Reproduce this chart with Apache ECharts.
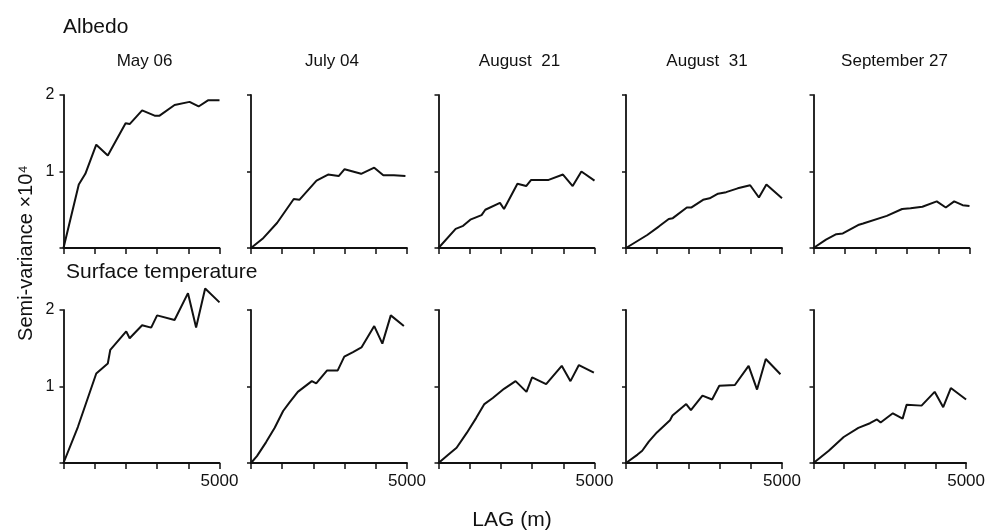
<!DOCTYPE html>
<html>
<head>
<meta charset="utf-8">
<script src="https://cdn.jsdelivr.net/npm/echarts@6/dist/echarts.min.js"></script>
<style>
html,body{margin:0;padding:0;background:#fff;}
#c{width:988px;height:532px;}
</style>
</head>
<body>
<div id="c"></div>
<script>
// ---- Data (lag in m, semi-variance x10^4) ----
const panelTitles = ['May 06', 'July 04', 'August  21', 'August  31', 'September 27'];
const rowTitles = ['Albedo', 'Surface temperature'];
const xTicks = [0, 1000, 2000, 3000, 4000, 5000];
const yTicks = [0, 1, 2];

// Albedo
const albMay06Lag = [0, 490, 700, 1050, 1420, 1990, 2120, 2520, 2920, 3080, 3560, 4040, 4330, 4630, 5000];
const albMay06Val = [0, 0.83, 0.97, 1.35, 1.21, 1.63, 1.62, 1.80, 1.73, 1.73, 1.87, 1.91, 1.85, 1.93, 1.93];
const albJul04Lag = [0, 370, 840, 1370, 1550, 2100, 2470, 2810, 3000, 3530, 3950, 4240, 4580, 4950];
const albJul04Val = [0, 0.12, 0.33, 0.64, 0.63, 0.88, 0.96, 0.94, 1.03, 0.97, 1.05, 0.95, 0.95, 0.94];
const albAug21Lag = [0, 550, 790, 1020, 1380, 1500, 1970, 2100, 2530, 2810, 2970, 3530, 3990, 4300, 4580, 5000];
const albAug21Val = [0, 0.25, 0.29, 0.37, 0.43, 0.50, 0.59, 0.51, 0.84, 0.81, 0.89, 0.89, 0.96, 0.81, 1.00, 0.88];
const albAug31Lag = [0, 680, 1050, 1370, 1500, 1950, 2100, 2470, 2680, 2950, 3210, 3580, 3980, 4260, 4500, 5000];
const albAug31Val = [0, 0.17, 0.28, 0.38, 0.39, 0.53, 0.53, 0.63, 0.65, 0.71, 0.73, 0.78, 0.82, 0.66, 0.83, 0.65];
const albSep27Lag = [0, 400, 730, 940, 1430, 1590, 2350, 2840, 3110, 3490, 3950, 4240, 4510, 4780, 5000];
const albSep27Val = [0, 0.11, 0.18, 0.19, 0.30, 0.32, 0.42, 0.51, 0.52, 0.54, 0.61, 0.53, 0.61, 0.56, 0.55];

// Surface temperature
const tmpMay06Lag = [0, 460, 1050, 1420, 1500, 2010, 2120, 2520, 2810, 3000, 3560, 3990, 4250, 4540, 5000];
const tmpMay06Val = [0, 0.47, 1.17, 1.30, 1.48, 1.72, 1.63, 1.80, 1.77, 1.93, 1.87, 2.22, 1.77, 2.28, 2.10];
const tmpJul04Lag = [0, 190, 480, 760, 1030, 1230, 1500, 1950, 2090, 2440, 2780, 2990, 3270, 3540, 3950, 4210, 4480, 4900];
const tmpJul04Val = [0, 0.09, 0.27, 0.46, 0.68, 0.79, 0.93, 1.07, 1.04, 1.21, 1.21, 1.39, 1.45, 1.51, 1.79, 1.56, 1.93, 1.79];
const tmpAug21Lag = [0, 320, 580, 900, 1210, 1470, 1740, 2100, 2470, 2820, 3000, 3450, 3950, 4230, 4500, 4980];
const tmpAug21Val = [0, 0.11, 0.20, 0.39, 0.59, 0.77, 0.85, 0.97, 1.07, 0.93, 1.12, 1.03, 1.27, 1.07, 1.28, 1.18];
const tmpAug31Lag = [0, 370, 520, 730, 990, 1410, 1490, 1930, 2080, 2450, 2760, 2990, 3490, 3930, 4200, 4480, 4950];
const tmpAug31Val = [0, 0.11, 0.16, 0.28, 0.40, 0.56, 0.62, 0.77, 0.69, 0.88, 0.83, 1.01, 1.02, 1.27, 0.96, 1.36, 1.16];
const tmpSep27Lag = [0, 500, 990, 1470, 1850, 2080, 2200, 2600, 2920, 3050, 3540, 3970, 4250, 4500, 5000];
const tmpSep27Val = [0, 0.16, 0.34, 0.46, 0.52, 0.57, 0.53, 0.65, 0.58, 0.76, 0.75, 0.93, 0.73, 0.98, 0.83];

const rowsData = [
  [[albMay06Lag, albMay06Val], [albJul04Lag, albJul04Val], [albAug21Lag, albAug21Val], [albAug31Lag, albAug31Val], [albSep27Lag, albSep27Val]],
  [[tmpMay06Lag, tmpMay06Val], [tmpJul04Lag, tmpJul04Val], [tmpAug21Lag, tmpAug21Val], [tmpAug31Lag, tmpAug31Val], [tmpSep27Lag, tmpSep27Val]]
];

// ---- Layout ----
const lefts = [63.5, 251, 438.5, 626, 813.5];
const gw = 156;
const tops = [95, 310];
const gh = 153;
const ink = '#111111';
const FONT = '"Liberation Sans", Arial, Helvetica, sans-serif';

const grids = [], xAxes = [], yAxes = [], series = [];
let k = 0;
for (let r = 0; r < 2; r++) {
  for (let c = 0; c < 5; c++) {
    grids.push({ left: lefts[c], top: tops[r], width: gw, height: gh, containLabel: false });
    xAxes.push({
      type: 'value', gridIndex: k, min: xTicks[0], max: xTicks[xTicks.length - 1], interval: 1000,
      axisLine: { show: true, lineStyle: { color: ink, width: 1.8 } },
      axisTick: { show: true, inside: false, length: 6, lineStyle: { color: ink, width: 1.5 } },
      splitLine: { show: false },
      axisLabel: {
        show: r === 1, margin: 10, color: ink, fontSize: 17, fontFamily: FONT,
        formatter: v => (v === 5000 ? '5000' : '')
      }
    });
    yAxes.push({
      type: 'value', gridIndex: k, min: yTicks[0], max: yTicks[yTicks.length - 1], interval: 1,
      axisLine: { show: true, lineStyle: { color: ink, width: 1.8 } },
      axisTick: { show: true, inside: false, length: 4, lineStyle: { color: ink, width: 1.5 } },
      splitLine: { show: false },
      axisLabel: {
        show: c === 0, margin: 9, color: ink, fontSize: 16, fontFamily: FONT,
        formatter: v => (v === 0 ? '' : String(v))
      }
    });
    const [lag, val] = rowsData[r][c];
    series.push({
      type: 'line', xAxisIndex: k, yAxisIndex: k,
      data: lag.map((x, i) => [x, val[i]]),
      showSymbol: false, symbol: 'none', clip: false,
      lineStyle: { color: ink, width: 2 },
      animation: false
    });
    k++;
  }
}

const graphics = [];
rowTitles.forEach((t, r) => {
  graphics.push({ type: 'text', x: r === 0 ? 63 : 66, y: r === 0 ? 27 : 272,
    style: { text: t, font: '21px ' + FONT, fill: ink, align: 'left', verticalAlign: 'middle' } });
});
panelTitles.forEach((t, c) => {
  graphics.push({ type: 'text', x: lefts[c] + gw / 2 + 3, y: 61,
    style: { text: t, font: '17px ' + FONT, fill: ink, align: 'center', verticalAlign: 'middle' } });
});
graphics.push({ type: 'text', x: 26, y: 253, rotation: Math.PI / 2,
  style: { text: 'Semi-variance ×10⁴', font: '20px ' + FONT, fill: ink, align: 'center', verticalAlign: 'middle' } });
graphics.push({ type: 'text', x: 512, y: 520,
  style: { text: 'LAG (m)', font: '21px ' + FONT, fill: ink, align: 'center', verticalAlign: 'middle' } });

const chart = echarts.init(document.getElementById('c'), null, { renderer: 'canvas' });
chart.setOption({
  backgroundColor: '#ffffff',
  animation: false,
  grid: grids, xAxis: xAxes, yAxis: yAxes, series: series,
  graphic: graphics
});
</script>
</body>
</html>
